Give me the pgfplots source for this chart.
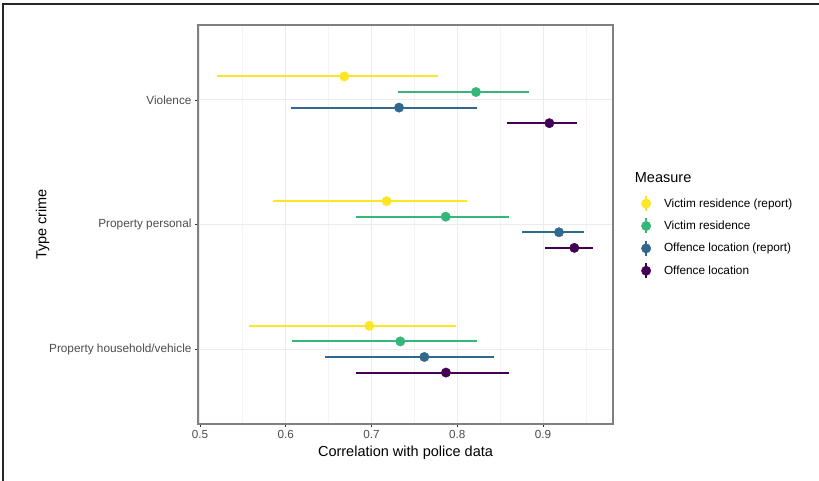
\documentclass[border=0pt]{standalone}
\usepackage{pgfplots}
\pgfplotsset{compat=1.18}
\usepackage{pgfplotstable}
\usepackage{fontspec}
\setmainfont{Liberation Sans}
\definecolor{cy}{HTML}{FDE725}
\definecolor{cg}{HTML}{35B779}
\definecolor{cb}{HTML}{31688E}
\definecolor{cp}{HTML}{440154}
\definecolor{tl}{HTML}{4D4D4D}
\definecolor{gmaj}{HTML}{EBEBEB}
\definecolor{gmin}{HTML}{F4F4F4}

% columns: est lo hi y
\pgfplotstableread{
est lo hi y
0.6683 0.5203 0.7779 3.1875
0.7177 0.5848 0.8117 2.1875
0.6975 0.5576 0.7981 1.1875
}\vicrep
\pgfplotstableread{
est lo hi y
0.8218 0.7313 0.8836 3.0625
0.7865 0.6816 0.8599 2.0625
0.7336 0.6077 0.8233 1.0625
}\vic
\pgfplotstableread{
est lo hi y
0.7321 0.6058 0.8226 2.9375
0.9185 0.8750 0.9477 1.9375
0.7616 0.6454 0.8428 0.9375
}\offrep
\pgfplotstableread{
est lo hi y
0.9073 0.8576 0.9399 2.8125
0.9364 0.9022 0.9585 1.8125
0.7868 0.6816 0.8602 0.8125
}\off

\pgfplotsset{
  ser/.style={only marks, mark=*, mark size=4.7bp, color=#1,
    mark options={draw=#1, fill=#1},
    legend image code/.code={\draw[#1, line width=1.8bp] (0bp,-7.5bp) -- (0bp,7.5bp); \fill[#1] (0bp,0bp) circle (4.7bp);},
    error bars/.cd, x dir=both, x explicit, error mark=none,
    error bar style={line width=2.1bp, color=#1}},
}

\begin{document}
\begin{tikzpicture}[x=1bp,y=1bp]
\useasboundingbox (0,0) rectangle (819,481);
\fill[white] (0,0) rectangle (819,481);
\draw[line width=1.5bp, black!85] (3,0) -- (3,477) -- (819,477);
\begin{axis}[
  at={(198bp,57bp)}, anchor=south west,
  scale only axis, width=415bp, height=399bp,
  xmin=0.4978, xmax=0.9815, ymin=0.4, ymax=3.6,
  xtick={0.5,0.6,0.7,0.8,0.9},
  minor xtick={0.55,0.65,0.75,0.85,0.95},
  ytick={1,2,3},
  yticklabels={Property household/vehicle, Property personal, Violence},
  grid=both,
  major grid style={gmaj, line width=1.1bp},
  minor grid style={gmin, line width=0.6bp},
  tick pos=left, tick align=outside,
  major tick length=3bp, minor tick length=0pt,
  tick style={black!80, line width=0.6bp},
  axis line style={black!50, line width=1.1bp},
  /pgf/number format/assume math mode=true,
  xticklabel style={/pgf/number format/fixed, /pgf/number format/precision=1, font=\fontsize{11.7bp}{14bp}\selectfont, text=tl},
  yticklabel style={font=\fontsize{11.8bp}{14bp}\selectfont, text=tl},
  xlabel={Correlation with police data},
  ylabel={Type crime},
  label style={font=\fontsize{14.5bp}{17bp}\selectfont},
  ylabel style={xshift=0bp, yshift=-7bp},
  legend style={at={(rel axis cs:1.0675,0.574)}, anchor=north west, draw=none, fill=none,
    font=\fontsize{11.8bp}{14bp}\selectfont, row sep=5.6bp, inner sep=0pt,
    nodes={inner sep=0pt}, column sep=13bp},
  legend cell align=left,
]
\addplot[ser=cy] table[x=est, y=y, x error plus expr=\thisrow{hi}-\thisrow{est}, x error minus expr=\thisrow{est}-\thisrow{lo}] {\vicrep};
\addlegendentry{Victim residence (report)}
\addplot[ser=cg] table[x=est, y=y, x error plus expr=\thisrow{hi}-\thisrow{est}, x error minus expr=\thisrow{est}-\thisrow{lo}] {\vic};
\addlegendentry{Victim residence}
\addplot[ser=cb] table[x=est, y=y, x error plus expr=\thisrow{hi}-\thisrow{est}, x error minus expr=\thisrow{est}-\thisrow{lo}] {\offrep};
\addlegendentry{Offence location (report)}
\addplot[ser=cp] table[x=est, y=y, x error plus expr=\thisrow{hi}-\thisrow{est}, x error minus expr=\thisrow{est}-\thisrow{lo}] {\off};
\addlegendentry{Offence location}
\end{axis}
\node[anchor=west, font=\fontsize{14.5bp}{17bp}\selectfont, inner sep=0pt] at (634.7,303.7) {Measure};
\end{tikzpicture}
\end{document}
